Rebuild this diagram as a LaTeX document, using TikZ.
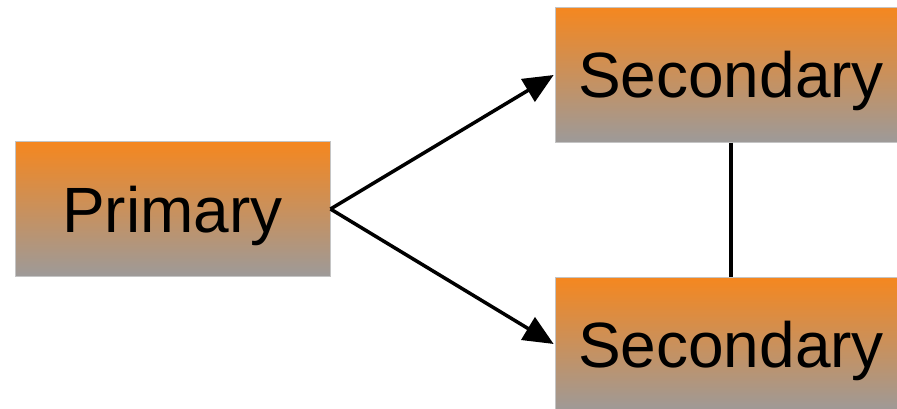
\documentclass[tikz,border=0pt]{standalone}
\usepackage{fontspec}
\setmainfont{Liberation Sans}
\usepackage{tikz}
\usetikzlibrary{arrows.meta, positioning}
\definecolor{rankOrange}{HTML}{F5871F}
\definecolor{rankGrey}{HTML}{9D9A99}
\definecolor{rankEdge}{HTML}{C4C4C4}

\begin{document}
\begin{tikzpicture}[
  x=1pt, y=-1pt,
  % Styles
  rankbox/.style={
    rectangle, draw=rankEdge, line width=1pt,
    minimum width=#1, minimum height=135pt, inner sep=0pt,
    top color=rankOrange, bottom color=rankGrey,
    font=\fontsize{64}{72}\selectfont, text=black,
    text height=46pt, text depth=0pt
  },
  link/.style={line width=3.5pt, black},
  arrowlink/.style={link, -{Triangle[length=30pt, width=26pt]}, shorten >=1pt},
]
\useasboundingbox (0,0) rectangle (897,408);
\clip (0,0) rectangle (897,408);

% === BOXES ===
\node[rankbox=315pt] (primary) at (172.5,209) {Primary};
\node[rankbox=352pt] (sectop) at (731,74.5) {Secondary};
\node[rankbox=352pt] (secbot) at (731,344.5) {Secondary};

% === Connectors ===
\draw[arrowlink] (primary.east) -- (sectop.west);
\draw[arrowlink] (primary.east) -- (secbot.west);
\draw[link] (sectop.south) -- (secbot.north);

\end{tikzpicture}
\end{document}
